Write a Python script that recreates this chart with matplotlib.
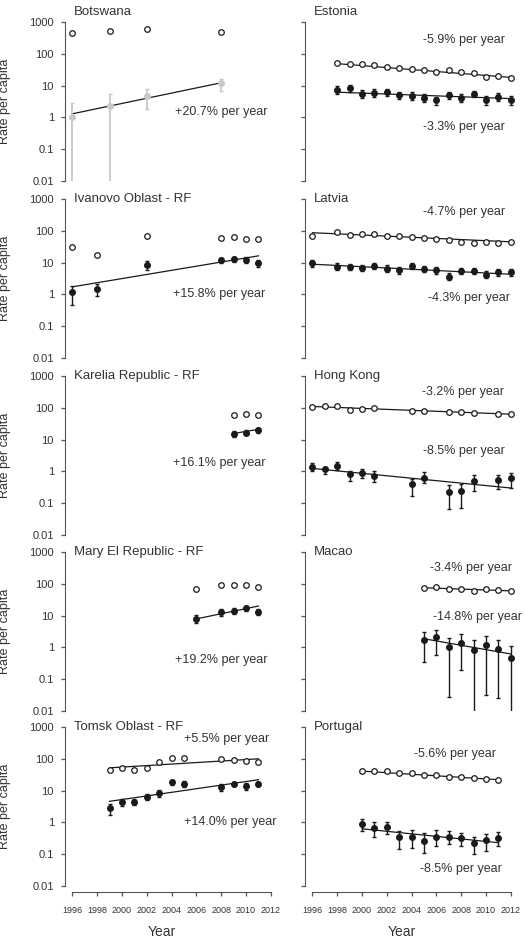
import numpy as np
import matplotlib
matplotlib.use('Agg')
import matplotlib.pyplot as plt

plt.rcParams['font.family'] = ['Liberation Sans', 'DejaVu Sans']

# ---- data (rate per capita, log scale) ----
# Botswana
bw_years = [1996, 1999, 2002, 2008]
bw_open = [440, 520, 590, 480]
bw_filled = [1.0, 2.3, 4.7, 11.8]
bw_hi = [2.9, 5.3, 8.0, 16.5]
bw_lo = [0.001, 0.001, 1.8, 6.8]
bw_trend = [1.3, 12.3]

# Ivanovo Oblast - RF
iv_years = [1996, 1998, 2002, 2008, 2009, 2010, 2011]
iv_open = [31, 17.5, 69, 61, 63, 54, 56]
iv_filled = [1.2, 1.5, 8.5, 11.9, 12.8, 11.9, 9.4]
iv_hi = [1.9, 2.2, 11, 14.4, 15.5, 14.5, 11.8]
iv_lo = [0.46, 0.88, 6.0, 9.6, 10.3, 9.6, 7.3]
iv_trend = [1.73, 16.3]

# Karelia Republic - RF
ka_years = [2009, 2010, 2011]
ka_open = [61, 64, 58]
ka_filled = [15.2, 16.7, 19.9]
ka_hi = [18.5, 20, 23.5]
ka_lo = [12.3, 13.6, 16.5]
ka_trend = [15.6, 21]

# Mary El Republic - RF
me_years = [2006, 2008, 2009, 2010, 2011]
me_open = [68, 89, 95, 89, 79]
me_filled = [7.9, 13, 14.3, 16.9, 13.3]
me_hi = [10.5, 16, 17.5, 20, 16.5]
me_lo = [6.0, 10, 11.5, 13.5, 10.8]
me_trend = [7.9, 20]

# Tomsk Oblast - RF
to_years = [1999, 2000, 2001, 2002, 2003, 2004, 2005, 2008, 2009, 2010, 2011]
to_open = [44, 52, 44, 50, 78, 105, 108, 100, 91, 84, 78]
to_filled = [2.8, 4.5, 4.5, 6.3, 8.4, 18.3, 16.3, 13, 16.3, 13.7, 16.3]
to_hi = [3.8, 5.5, 5.5, 7.6, 10.5, 21, 19.5, 16, 19, 17.5, 19]
to_lo = [1.75, 3.3, 3.4, 5.0, 6.3, 15, 12.6, 9.5, 13.5, 10.5, 13.5]
to_trend_open = [52, 100]
to_trend = [4.6, 22]

# Estonia
ee_years = list(range(1998, 2013))
ee_open = [52.7, 49, 49, 43.6, 38.7, 36.9, 34.4, 31.3, 27.1, 30.5, 27.1, 25.2, 19, 19.9, 17.3]
ee_filled = [7.3, 8.3, 5.5, 5.8, 6.2, 4.9, 4.8, 4.1, 3.4, 4.9, 4.1, 5.5, 3.4, 4.4, 3.4]
ee_hi = [9.5, 10.5, 7.3, 7.7, 8.0, 6.4, 6.3, 5.5, 4.5, 6.4, 5.5, 7.0, 4.8, 5.8, 4.6]
ee_lo = [5.6, 6.5, 4.1, 4.4, 4.8, 3.7, 3.6, 3.0, 2.5, 3.7, 3.0, 4.3, 2.4, 3.3, 2.5]
ee_trend_open = [49, 18.1]
ee_trend = [6.2, 3.9]

# Latvia
lv_years = [1996] + list(range(1998, 2013))
lv_open = [70, 89, 73, 77, 79, 70, 68, 65, 59, 55, 52, 45, 42, 43, 41, 45]
lv_filled = [9.5, 7.5, 7.3, 6.8, 7.9, 6.5, 5.8, 7.9, 6.2, 5.8, 3.65, 5.5, 5.5, 4.1, 4.9, 4.9]
lv_hi = [12.3, 9.6, 9.3, 8.7, 10.0, 8.3, 7.4, 10.0, 7.9, 7.4, 4.7, 7.0, 7.0, 5.3, 6.3, 6.3]
lv_lo = [7.4, 5.9, 5.7, 5.3, 6.2, 5.1, 4.5, 6.2, 4.9, 4.5, 2.8, 4.3, 4.3, 3.2, 3.8, 3.8]
lv_trend_open = [87, 45]
lv_trend = [8.9, 4.3]

# Hong Kong
hk_years = [1996, 1997, 1998, 1999, 2000, 2001, 2004, 2005, 2007, 2008, 2009, 2011, 2012]
hk_open = [107, 110, 118, 84, 89, 98, 80, 80, 73, 75, 70, 63, 63]
hk_filled = [1.4, 1.16, 1.5, 0.82, 0.89, 0.73, 0.39, 0.63, 0.22, 0.24, 0.50, 0.53, 0.60]
hk_hi = [1.79, 1.4, 1.92, 1.05, 1.18, 1.02, 0.57, 0.93, 0.37, 0.39, 0.77, 0.77, 0.86]
hk_lo = [1.02, 0.80, 1.1, 0.51, 0.60, 0.45, 0.17, 0.42, 0.068, 0.071, 0.25, 0.28, 0.29]
hk_trend_open = [110, 63]
hk_trend = [1.24, 0.30]

# Macao
mo_years = list(range(2005, 2013))
mo_open = [73, 77, 67, 70, 60, 68, 62, 60]
mo_filled = [1.7, 2.1, 1.02, 1.37, 0.85, 1.18, 0.91, 0.45]
mo_hi = [3.0, 3.6, 1.96, 2.55, 1.74, 2.3, 1.74, 1.07]
mo_lo = [0.34, 0.56, 0.028, 0.19, 0.005, 0.033, 0.026, 0.005]
mo_trend_open = [75, 60]
mo_trend = [1.87, 0.62]

# Portugal
pt_years = list(range(2000, 2012))
pt_open = [41, 41, 42, 37, 35, 32, 30.5, 27.7, 26.4, 25.1, 23.4, 22.3]
pt_filled = [0.91, 0.66, 0.695, 0.35, 0.36, 0.26, 0.36, 0.36, 0.32, 0.23, 0.28, 0.32]
pt_hi = [1.31, 1.02, 1.0, 0.545, 0.57, 0.46, 0.57, 0.545, 0.48, 0.35, 0.44, 0.495]
pt_lo = [0.52, 0.35, 0.44, 0.144, 0.155, 0.113, 0.175, 0.217, 0.183, 0.105, 0.122, 0.183]
pt_trend_open = [41, 22]
pt_trend = [0.63, 0.23]

y_ticks = [0.01, 0.1, 1, 10, 100, 1000]
y_ticklabels = ['0.01', '0.1', '1', '10', '100', '1000']
x_ticks = list(range(1996, 2013, 2))

# (name, years, open, filled, lo, hi, trend_filled, trend_open, labels[(text, x, y)], grey)
panels = [
    ('Botswana', bw_years, bw_open, bw_filled, bw_lo, bw_hi, bw_trend, None,
     [('+20.7% per year', 2004.3, 1.45)], True),
    ('Estonia', ee_years, ee_open, ee_filled, ee_lo, ee_hi, ee_trend, ee_trend_open,
     [('-5.9% per year', 2004.95, 265), ('-3.3% per year', 2004.95, 0.49)], False),
    ('Ivanovo Oblast - RF', iv_years, iv_open, iv_filled, iv_lo, iv_hi, iv_trend, None,
     [('+15.8% per year', 2004.1, 1.0)], False),
    ('Latvia', lv_years, lv_open, lv_filled, lv_lo, lv_hi, lv_trend, lv_trend_open,
     [('-4.7% per year', 2004.95, 383), ('-4.3% per year', 2005.3, 0.75)], False),
    ('Karelia Republic - RF', ka_years, ka_open, ka_filled, ka_lo, ka_hi, ka_trend, None,
     [('+16.1% per year', 2004.1, 1.8)], False),
    ('Hong Kong', hk_years, hk_open, hk_filled, hk_lo, hk_hi, hk_trend, hk_trend_open,
     [('-3.2% per year', 2004.8, 320), ('-8.5% per year', 2004.95, 4.5)], False),
    ('Mary El Republic - RF', me_years, me_open, me_filled, me_lo, me_hi, me_trend, None,
     [('+19.2% per year', 2004.3, 0.41)], False),
    ('Macao', mo_years, mo_open, mo_filled, mo_lo, mo_hi, mo_trend, mo_trend_open,
     [('-3.4% per year', 2005.5, 309), ('-14.8% per year', 2005.75, 9.1)], False),
    ('Tomsk Oblast - RF', to_years, to_open, to_filled, to_lo, to_hi, to_trend, to_trend_open,
     [('+5.5% per year', 2005.0, 430), ('+14.0% per year', 2005.0, 1.0)], False),
    ('Portugal', pt_years, pt_open, pt_filled, pt_lo, pt_hi, pt_trend, pt_trend_open,
     [('-5.6% per year', 2004.2, 144), ('-8.5% per year', 2004.7, 0.034)], False),
]

W, H = 525, 938
fig = plt.figure(figsize=(W / 100, H / 100), dpi=100)

row_tops = [22, 199, 376, 552, 727]
ax_h = 159
ax_w = 216
col_x = [65, 305]
txt = '#333333'
ink = '#1a1a1a'
spine_c = '#555555'

for i, (name, yrs, op, fl, lo, hi, tr, tr_o, labels, grey) in enumerate(panels):
    row, col = divmod(i, 2)
    ax = fig.add_axes([col_x[col] / W, 1 - (row_tops[row] + ax_h) / H, ax_w / W, ax_h / H])
    ax.set_yscale('log')
    ax.set_ylim(0.01, 1000)
    ax.set_xlim(1995.4, 2012.82)
    for s in ['top', 'right']:
        ax.spines[s].set_visible(False)
    ax.spines['left'].set_color(spine_c)
    ax.set_yticks(y_ticks)
    ax.yaxis.set_minor_locator(matplotlib.ticker.NullLocator())
    ax.tick_params(axis='y', length=3, width=0.9, color=spine_c, labelsize=8,
                   labelcolor=txt, pad=5)
    if col == 0:
        ax.set_yticklabels(y_ticklabels)
        ax.set_ylabel('Rate per capita', fontsize=9, color=txt)
        ax.yaxis.set_label_coords(-0.25, 0.5)
    else:
        ax.set_yticklabels([])

    if row == 4:
        ax.spines['bottom'].set_position(('outward', 4.3))
        ax.spines['bottom'].set_bounds(1996, 2012)
        ax.spines['bottom'].set_color(spine_c)
        ax.set_xticks(x_ticks)
        ax.tick_params(axis='x', length=3, width=0.9, color=spine_c, labelsize=6.5,
                       labelcolor=txt, pad=7)
        ax.set_xlabel('Year', fontsize=10, color=txt)
        ax.xaxis.set_label_coords(0.45, -0.245)
    else:
        ax.spines['bottom'].set_visible(False)
        ax.set_xticks([])

    yrs = np.array(yrs)
    fl = np.array(fl)
    c = '#c8c8c8' if grey else ink
    ax.errorbar(yrs, fl, yerr=[fl - np.array(lo), np.array(hi) - fl], fmt='o',
                color=c, ms=4, elinewidth=1.3 if grey else 1.0, capsize=1.6,
                capthick=1.0, zorder=3)
    ax.plot(yrs, op, 'o', ms=4, mfc='white', mec=ink, mew=0.9, zorder=4)
    ax.plot([yrs[0], yrs[-1]], tr, color=ink, lw=0.9, zorder=2)
    if tr_o is not None:
        ax.plot([yrs[0], yrs[-1]], tr_o, color=ink, lw=0.9, zorder=2)

    for t, tx, ty in labels:
        ax.text(tx, ty, t, fontsize=9, color=txt, va='center', ha='left')

    ty = 1.065 if row == 0 else 1.0
    ax.text(0.04, ty, name, transform=ax.transAxes, fontsize=9.5, color=txt,
            va='center', ha='left')

fig.savefig('out.png', dpi=100)
